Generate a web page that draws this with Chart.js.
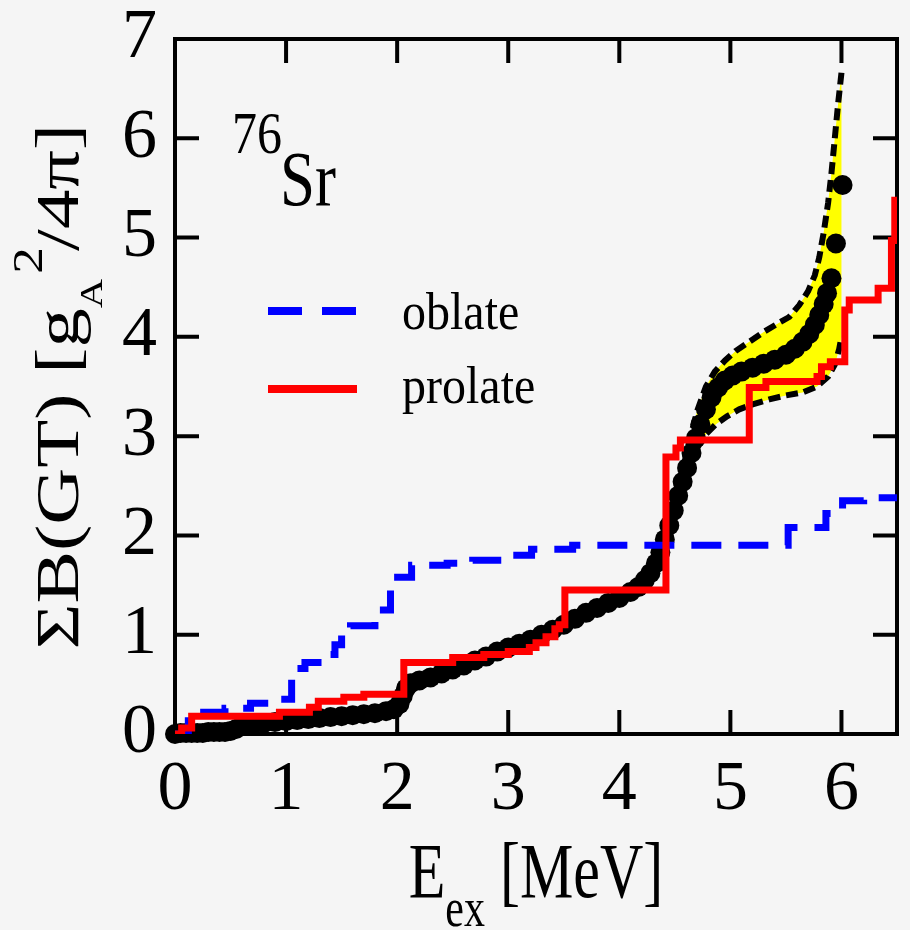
<!DOCTYPE html>
<html>
<head>
<meta charset="utf-8">
<title>76Sr summed B(GT)</title>
<script src="https://cdn.jsdelivr.net/npm/chart.js@4.4.0/dist/chart.umd.min.js"></script>
<style>
  html, body { margin: 0; padding: 0; background: #f5f5f5; }
  #wrap { width: 910px; height: 930px; }
</style>
</head>
<body>
<div id="wrap"><canvas id="chart" width="910" height="930"></canvas></div>
<script>
// axis ticks
const xTicks = [0, 1, 2, 3, 4, 5, 6];
const yTicks = [0, 1, 2, 3, 4, 5, 6, 7];

// experimental running sum (black dots)
const expE = [0.00, 0.05, 0.10, 0.15, 0.20, 0.25, 0.30, 0.35, 0.40, 0.45, 0.50, 0.55, 0.60, 0.70, 0.80,
  0.90, 1.00, 1.10, 1.20, 1.30, 1.40, 1.50, 1.60, 1.70, 1.80, 1.90, 1.97, 2.02, 2.05, 2.08, 2.12,
  2.20, 2.30, 2.40, 2.50, 2.60, 2.70, 2.80, 2.90, 3.00, 3.10, 3.20, 3.30, 3.40, 3.50, 3.60, 3.70,
  3.80, 3.90, 4.00, 4.10, 4.17, 4.23, 4.28, 4.33, 4.37, 4.41, 4.45, 4.49, 4.53, 4.57, 4.61, 4.65,
  4.69, 4.73, 4.78, 4.83, 4.89, 4.95, 5.02, 5.10, 5.20, 5.30, 5.40, 5.50, 5.58, 5.65, 5.71, 5.76,
  5.80, 5.84, 5.87, 5.91, 5.95, 6.01];
const expSum = [0.00, 0.01, 0.01, 0.01, 0.01, 0.01, 0.02, 0.02, 0.02, 0.02, 0.03, 0.05, 0.08, 0.10, 0.11,
  0.12, 0.13, 0.14, 0.15, 0.16, 0.17, 0.18, 0.19, 0.20, 0.21, 0.23, 0.25, 0.30, 0.38, 0.46, 0.51,
  0.54, 0.57, 0.61, 0.65, 0.69, 0.74, 0.78, 0.83, 0.87, 0.91, 0.95, 1.00, 1.05, 1.10, 1.16, 1.22,
  1.27, 1.32, 1.37, 1.43, 1.48, 1.55, 1.62, 1.72, 1.83, 1.96, 2.10, 2.25, 2.40, 2.54, 2.68, 2.83,
  2.98, 3.12, 3.27, 3.39, 3.49, 3.56, 3.61, 3.65, 3.69, 3.73, 3.77, 3.82, 3.88, 3.95, 4.03, 4.12,
  4.22, 4.33, 4.44, 4.59, 4.94, 5.53];

// experimental uncertainty band (yellow, dashed edges)
const bandUpperE = [4.55, 4.62, 4.70, 4.78, 4.86, 4.95, 5.05, 5.17, 5.30, 5.42, 5.53, 5.62, 5.70, 5.76,
  5.80, 5.84, 5.88, 5.91, 5.94, 5.97, 6.00];
const bandUpperSum = [2.55, 2.90, 3.25, 3.50, 3.65, 3.76, 3.86, 3.95, 4.05, 4.13, 4.20, 4.32, 4.46, 4.62,
  4.80, 5.05, 5.35, 5.65, 6.00, 6.35, 6.66];
const bandLowerE = [4.55, 4.62, 4.70, 4.78, 4.87, 4.97, 5.08, 5.20, 5.35, 5.50, 5.65, 5.78, 5.88, 5.94,
  5.98, 6.00];
const bandLowerSum = [2.55, 2.72, 2.88, 3.02, 3.12, 3.20, 3.27, 3.32, 3.37, 3.41, 3.44, 3.50, 3.60, 3.72,
  3.88, 4.00];

// oblate calculation (blue dashed steps)
const oblateE = [0.00, 0.12, 0.45, 0.68, 0.94, 1.05, 1.10, 1.17, 1.38, 1.44, 1.50, 1.58, 1.80, 1.94,
  2.13, 2.45, 2.68, 2.95, 3.21, 3.58, 5.52, 5.86, 6.01, 6.20, 6.50];
const oblateSum = [0.00, 0.22, 0.26, 0.31, 0.35, 0.56, 0.66, 0.72, 0.80, 0.90, 1.03, 1.09, 1.25, 1.58,
  1.70, 1.72, 1.75, 1.80, 1.86, 1.90, 2.08, 2.22, 2.35, 2.38, 2.41];

// prolate calculation (red steps)
const prolateE = [0.00, 0.06, 0.15, 0.94, 1.21, 1.29, 1.52, 1.70, 2.06, 2.50, 2.78, 3.00, 3.19, 3.25,
  3.34, 3.42, 3.46, 3.51, 4.42, 4.51, 4.55, 5.17, 5.32, 5.78, 5.82, 5.90, 6.03, 6.07, 6.33, 6.45, 6.48];
const prolateSum = [0.00, 0.06, 0.18, 0.22, 0.27, 0.33, 0.37, 0.40, 0.72, 0.77, 0.80, 0.83, 0.87, 0.92,
  0.98, 1.06, 1.10, 1.45, 2.79, 2.88, 2.96, 3.49, 3.55, 3.60, 3.70, 3.75, 4.27, 4.37, 4.49, 4.97, 5.41];

const SERIF = "'Liberation Serif', 'Times New Roman', serif";

const pts = (xs, ys) => xs.map((x, i) => ({ x: x, y: ys[i] }));

// closed outline of the band: upper edge left->right, lower edge back right->left
const bandShape = pts(bandUpperE, bandUpperSum).concat(pts(bandLowerE, bandLowerSum).reverse());

// text drawn with a vertical stretch, like the original figure lettering
function stretchedText(ctx, parts, x, y, sy) {
  ctx.save();
  ctx.translate(x, y);
  ctx.scale(1, sy);
  let cx = 0;
  parts.forEach(p => {
    ctx.font = p.font;
    ctx.fillText(p.text, cx, (p.dy || 0) / sy);
    cx += ctx.measureText(p.text).width + (p.gap || 0);
  });
  ctx.restore();
}

const decor = {
  id: 'decor',
  beforeDraw(chart) {
    const ctx = chart.ctx;
    ctx.save();
    ctx.fillStyle = '#f5f5f5';
    ctx.fillRect(0, 0, chart.width, chart.height);
    ctx.restore();
  },
  beforeDatasetsDraw(chart) {
    const { ctx, chartArea: a, scales } = chart;
    const tl = 24;
    ctx.save();
    ctx.strokeStyle = '#000';
    ctx.lineWidth = 4;
    ctx.strokeRect(a.left, a.top, a.right - a.left, a.bottom - a.top);
    ctx.beginPath();
    xTicks.forEach(v => {
      const px = scales.x.getPixelForValue(v);
      ctx.moveTo(px, a.bottom); ctx.lineTo(px, a.bottom - tl);
      ctx.moveTo(px, a.top); ctx.lineTo(px, a.top + tl);
    });
    yTicks.forEach(v => {
      const py = scales.y.getPixelForValue(v);
      ctx.moveTo(a.left, py); ctx.lineTo(a.left + tl, py);
      ctx.moveTo(a.right, py); ctx.lineTo(a.right - tl, py);
    });
    ctx.stroke();
    ctx.restore();
  },
  afterDraw(chart) {
    const { ctx, chartArea: a } = chart;
    const ds = chart.data.datasets;
    ctx.save();
    ctx.fillStyle = '#000';
    ctx.textBaseline = 'alphabetic';
    ctx.textAlign = 'left';

    // nucleus label
    stretchedText(ctx, [{ text: '76', font: '50px ' + SERIF }], 232, 153, 1.2);
    stretchedText(ctx, [{ text: 'Sr', font: '63px ' + SERIF }], 280, 205, 1.25);

    // legend
    const legend = [
      { ds: ds.find(d => d.label === 'oblate'), y: 311, textY: 329 },
      { ds: ds.find(d => d.label === 'prolate'), y: 389, textY: 403 }
    ];
    legend.forEach(item => {
      ctx.save();
      ctx.strokeStyle = item.ds.borderColor;
      ctx.lineWidth = 8;
      ctx.setLineDash(item.ds.borderDash ? [34, 20] : []);
      ctx.beginPath();
      ctx.moveTo(268, item.y);
      ctx.lineTo(357, item.y);
      ctx.stroke();
      ctx.restore();
      stretchedText(ctx, [{ text: item.ds.label, font: '48px ' + SERIF }], 402, item.textY, 1.1);
    });

    // x axis title: E_ex [MeV]
    ctx.font = '60px ' + SERIF;
    const wE = ctx.measureText('E').width;
    const wRest = ctx.measureText(' [MeV]').width;
    ctx.font = '42px ' + SERIF;
    const wSub = ctx.measureText('ex').width;
    const xStart = (a.left + a.right) / 2 - (wE + wSub + wRest) / 2;
    stretchedText(ctx, [
      { text: 'E', font: '60px ' + SERIF },
      { text: 'ex', font: '42px ' + SERIF, dy: 29 },
      { text: ' [MeV]', font: '60px ' + SERIF }
    ], xStart, 897, 1.3);

    // y axis title: ΣB(GT) [g_A^2/4π]
    ctx.save();
    ctx.translate(78, (a.top + a.bottom) / 2);
    ctx.rotate(-Math.PI / 2);
    ctx.scale(1.27, 1);
    const main = '62px ' + SERIF, sub = '32px ' + SERIF, sup = '42px ' + SERIF;
    const pieces = [
      { text: 'ΣB(GT) [g', font: main, dy: 0, gap: 0 },
      { text: 'A', font: sub, dy: 24, gap: 4 },
      { text: '2', font: sup, dy: -36, gap: -3 },
      { text: '/4π]', font: main, dy: 0, gap: 0 }
    ];
    let total = 0;
    pieces.forEach(p => { ctx.font = p.font; total += ctx.measureText(p.text).width + p.gap; });
    let cx = -total / 2;
    pieces.forEach(p => {
      ctx.font = p.font;
      ctx.fillText(p.text, cx, p.dy);
      cx += ctx.measureText(p.text).width + p.gap;
    });
    ctx.restore();

    ctx.restore();
  }
};

new Chart(document.getElementById('chart'), {
  type: 'line',
  data: {
    datasets: [
      {
        label: 'prolate',
        data: pts(prolateE, prolateSum),
        stepped: true,
        borderColor: '#ff0000',
        borderWidth: 7,
        pointRadius: 0,
        fill: false,
        order: 0
      },
      {
        label: 'oblate',
        data: pts(oblateE, oblateSum),
        stepped: true,
        borderColor: '#0000ff',
        borderWidth: 7,
        borderDash: [30, 17],
        pointRadius: 0,
        fill: false,
        order: 1
      },
      {
        label: 'experiment',
        data: pts(expE, expSum),
        showLine: false,
        pointRadius: 10,
        pointBackgroundColor: '#000',
        pointBorderWidth: 0,
        clip: false,
        order: 2
      },
      {
        label: 'band upper',
        data: pts(bandUpperE, bandUpperSum),
        borderColor: '#000',
        borderWidth: 6,
        borderDash: [12, 6],
        pointRadius: 0,
        fill: false,
        order: 3
      },
      {
        label: 'band lower',
        data: pts(bandLowerE, bandLowerSum),
        borderColor: '#000',
        borderWidth: 6,
        borderDash: [12, 6],
        pointRadius: 0,
        fill: false,
        order: 3
      },
      {
        label: 'band',
        data: bandShape,
        borderWidth: 0,
        borderColor: 'rgba(0,0,0,0)',
        backgroundColor: '#ffff00',
        pointRadius: 0,
        fill: 'shape',
        order: 4
      }
    ]
  },
  options: {
    responsive: false,
    animation: false,
    events: [],
    layout: { padding: { left: 0, right: 13, top: 39, bottom: 0 } },
    plugins: {
      legend: { display: false },
      tooltip: { enabled: false }
    },
    scales: {
      x: {
        type: 'linear',
        min: 0,
        max: 6.5,
        afterBuildTicks: s => { s.ticks = xTicks.map(v => ({ value: v })); },
        afterFit: s => { s.height = 196; s.paddingLeft = 0; s.paddingRight = 0; },
        grid: { display: false, drawTicks: false },
        border: { display: false },
        ticks: {
          padding: 22,
          color: '#000',
          maxRotation: 0,
          autoSkip: false,
          font: { family: SERIF, size: 70, lineHeight: 1 }
        }
      },
      y: {
        type: 'linear',
        min: 0,
        max: 7,
        afterBuildTicks: s => { s.ticks = yTicks.map(v => ({ value: v })); },
        afterFit: s => { s.width = 175; s.paddingTop = 0; s.paddingBottom = 0; },
        grid: { display: false, drawTicks: false },
        border: { display: false },
        ticks: {
          padding: 18,
          color: '#000',
          autoSkip: false,
          font: { family: SERIF, size: 70, lineHeight: 1 }
        }
      }
    }
  },
  plugins: [decor]
});
</script>
</body>
</html>
